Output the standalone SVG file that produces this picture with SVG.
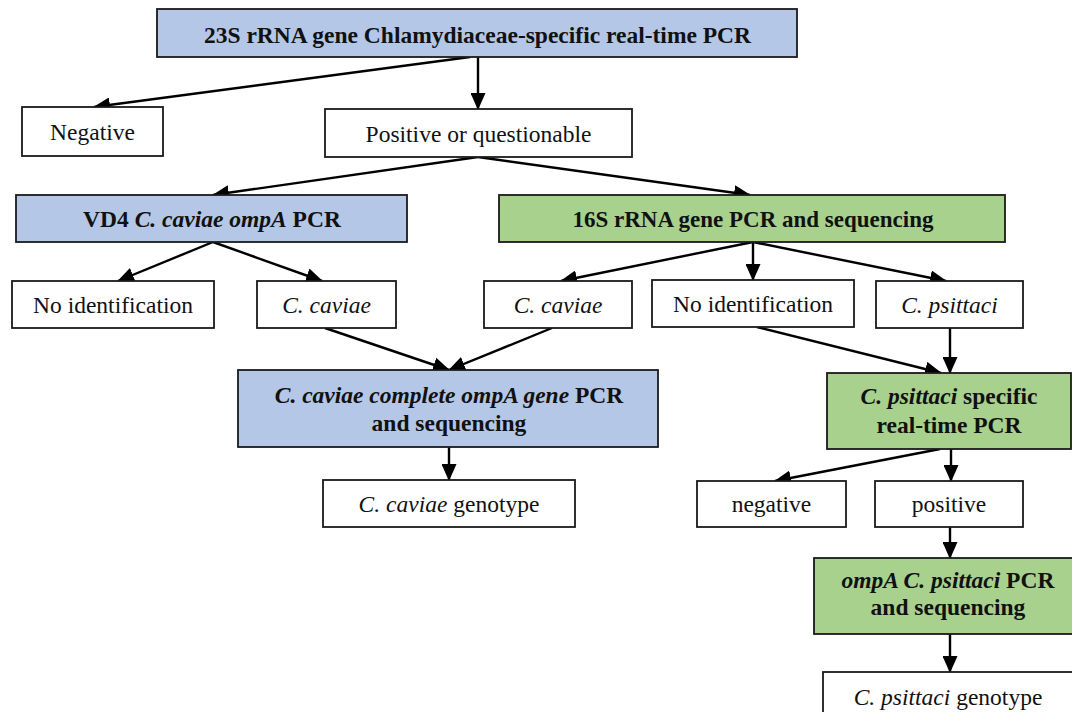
<svg xmlns="http://www.w3.org/2000/svg" width="1072" height="712" viewBox="0 0 1072 712">
<style>
.box{stroke:#1a1a1a;stroke-width:1.8}
.w{fill:#ffffff}
.b{fill:#b4c7e7}
.g{fill:#a9d18e}
text{font-family:"Liberation Serif","Times New Roman",serif;font-size:23.5px;fill:#111;text-anchor:middle}
.bd{font-weight:bold;font-size:23.5px}
.it{font-style:italic}
.con line{stroke:#000;stroke-width:2.4;marker-end:url(#ah)}
</style>
<defs>
<marker id="ah" markerUnits="userSpaceOnUse" markerWidth="17" markerHeight="15" refX="16" refY="7.5" orient="auto">
<path d="M0,0 L17,7.5 L0,15 Z" fill="#000"/>
</marker>
</defs>
<rect width="1072" height="712" fill="#fff"/>
<g class="con">
<line x1="478" y1="57" x2="478" y2="109"/>
<line x1="470" y1="57" x2="94" y2="107"/>
<line x1="478" y1="157" x2="213" y2="195"/>
<line x1="478" y1="157" x2="750" y2="195"/>
<line x1="213" y1="242" x2="118" y2="281"/>
<line x1="213" y1="242" x2="322" y2="281"/>
<line x1="753" y1="242" x2="561" y2="281"/>
<line x1="753" y1="242" x2="753" y2="280"/>
<line x1="753" y1="242" x2="946" y2="281"/>
<line x1="325" y1="328" x2="449" y2="370"/>
<line x1="552" y1="328" x2="449" y2="370"/>
<line x1="449" y1="447" x2="449" y2="480"/>
<line x1="950" y1="328" x2="950" y2="373"/>
<line x1="757" y1="327" x2="941" y2="373"/>
<line x1="940" y1="449" x2="775" y2="481"/>
<line x1="951" y1="449" x2="951" y2="481"/>
<line x1="950" y1="527" x2="950" y2="558"/>
<line x1="950" y1="634" x2="950" y2="672"/>
</g>
<g id="n-23s"><rect class="box b" x="157" y="9" width="640" height="48"/><text class="bd" x="477.5" y="43">23S rRNA gene Chlamydiaceae-specific real-time PCR</text></g>
<g id="n-negative"><rect class="box w" x="22" y="107" width="141" height="49"/><text x="92.5" y="140">Negative</text></g>
<g id="n-positive"><rect class="box w" x="325" y="109" width="307" height="48"/><text x="478.5" y="142">Positive or questionable</text></g>
<g id="n-vd4"><rect class="box b" x="16" y="195" width="391" height="47"/><text class="bd" x="212" y="227">VD4 <tspan class="it">C. caviae ompA</tspan> PCR</text></g>
<g id="n-16s"><rect class="box g" x="499" y="195" width="506" height="47"/><text class="bd" x="753" y="227" style="font-size:23px">16S rRNA gene PCR and sequencing</text></g>
<g id="n-noid1"><rect class="box w" x="12" y="281" width="202" height="47"/><text x="113" y="313">No identification</text></g>
<g id="n-cav1"><rect class="box w" x="257" y="281" width="139" height="47"/><text class="it" x="326.5" y="313">C. caviae</text></g>
<g id="n-cav2"><rect class="box w" x="484" y="281" width="148" height="47"/><text class="it" x="558" y="313">C. caviae</text></g>
<g id="n-noid2"><rect class="box w" x="652" y="280" width="202" height="47"/><text x="753" y="312">No identification</text></g>
<g id="n-psit"><rect class="box w" x="876" y="281" width="147" height="47"/><text class="it" x="949.5" y="313">C. psittaci</text></g>
<g id="n-cavcomplete"><rect class="box b" x="238" y="370" width="420" height="77"/><text class="bd" x="449" y="403"><tspan class="it">C. caviae complete ompA gene</tspan> PCR</text><text class="bd" x="449" y="431">and sequencing</text></g>
<g id="n-cavgeno"><rect class="box w" x="323" y="480" width="252" height="47"/><text x="449" y="512"><tspan class="it">C. caviae</tspan> genotype</text></g>
<g id="n-psitrt"><rect class="box g" x="827" y="373" width="244" height="76"/><text class="bd" x="949" y="404"><tspan class="it">C. psittaci</tspan> specific</text><text class="bd" x="949" y="433">real-time PCR</text></g>
<g id="n-neg2"><rect class="box w" x="697" y="481" width="149" height="46"/><text x="771.5" y="512">negative</text></g>
<g id="n-pos2"><rect class="box w" x="875" y="481" width="148" height="46"/><text x="949" y="512">positive</text></g>
<g id="n-ompa"><rect class="box g" x="814" y="558" width="266" height="76"/><text class="bd" x="948" y="588"><tspan class="it">ompA C. psittaci</tspan> PCR</text><text class="bd" x="948" y="615">and sequencing</text></g>
<g id="n-psitgeno"><rect class="box w" x="823" y="672" width="259" height="50"/><text x="948" y="705"><tspan class="it">C. psittaci</tspan> genotype</text></g>
</svg>
